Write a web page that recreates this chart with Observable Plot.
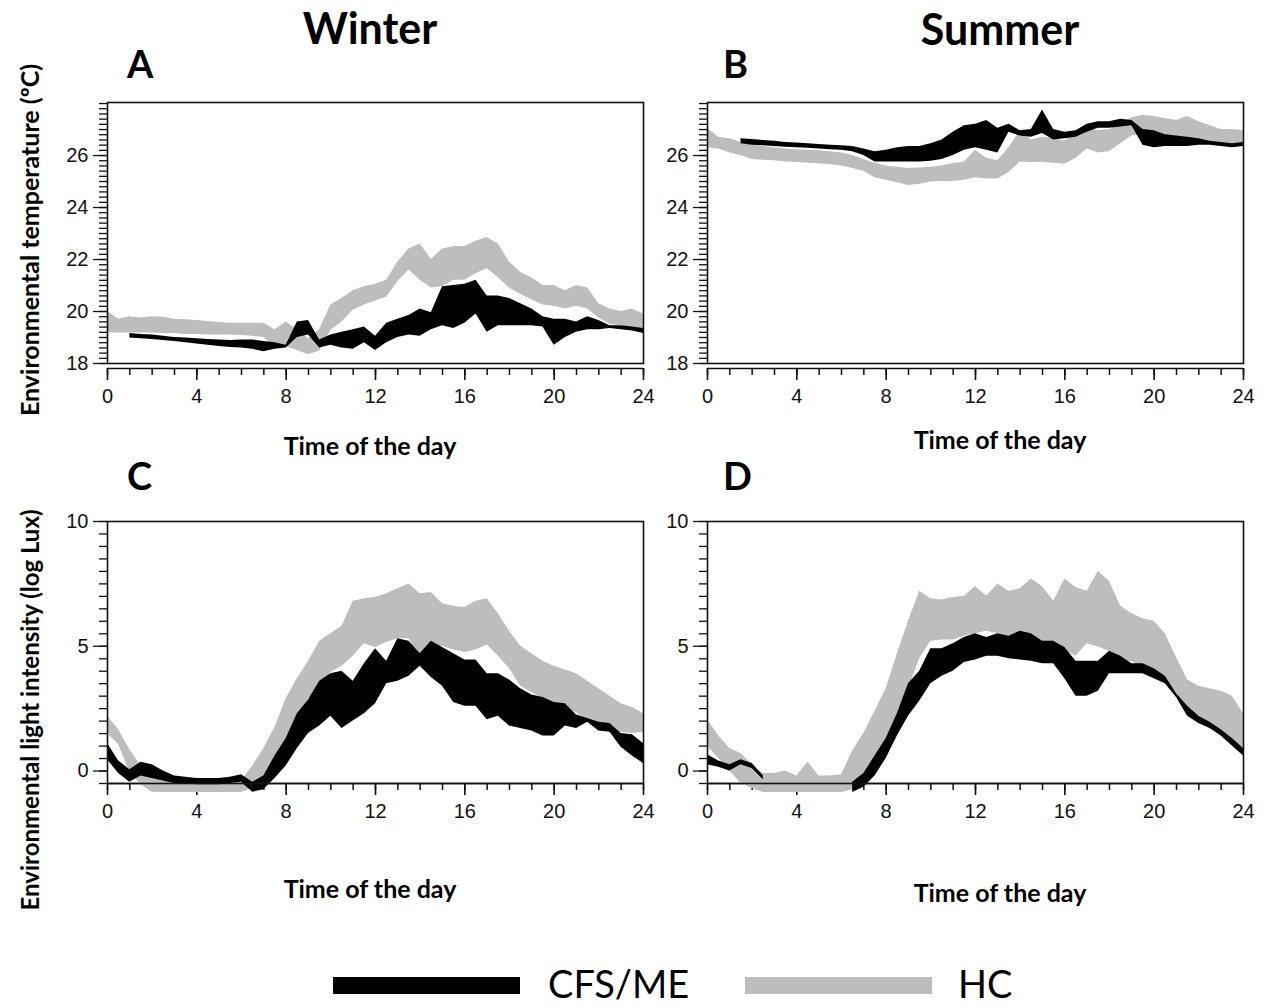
<!DOCTYPE html>
<html><head><meta charset="utf-8">
<script src="https://cdn.jsdelivr.net/npm/d3@7"></script>
<script src="https://cdn.jsdelivr.net/npm/@observablehq/plot@0.6"></script>
<style>
body{margin:0;background:#fff;}
#wrap{position:relative;width:1272px;height:1008px;overflow:hidden;background:#fff;}
</style></head><body><div id="wrap"></div>
<script>
// ---- data ----
const hours = [0,0.5,1,1.5,2,2.5,3,3.5,4,4.5,5,5.5,6,6.5,7,7.5,8,8.5,9,9.5,10,10.5,11,11.5,12,12.5,13,13.5,14,14.5,15,15.5,16,16.5,17,17.5,18,18.5,19,19.5,20,20.5,21,21.5,22,22.5,23,23.5,24];
const xTicks = [0,4,8,12,16,20,24];
const tempTicks = [18,20,22,24,26];
const luxTicks = [0,5,10];
const seasons = ["Winter","Summer"];
const panelLetters = ["A","B","C","D"];
const xTitle = "Time of the day";
const yTitles = ["Environmental temperature (ºC)","Environmental light intensity (log Lux)"];
const groups = ["CFS/ME","HC"];

// Panel A: winter temperature
const hcA_hi = [20.0,19.7,19.8,19.75,19.8,19.78,19.7,19.68,19.65,19.62,19.58,19.55,19.55,19.55,19.55,19.3,19.6,19.3,18.95,19.3,20.25,20.5,20.8,20.95,21.05,21.2,21.9,22.4,22.6,22.0,22.4,22.5,22.5,22.7,22.85,22.6,21.9,21.5,21.3,21.0,21.0,20.8,21.0,20.9,20.3,20.1,20.0,20.1,19.9];
const hcA_lo = [19.17,19.17,19.17,19.17,19.17,19.15,19.15,19.12,19.12,19.1,19.1,19.1,19.08,19.05,19.0,18.65,18.65,18.5,18.34,18.47,19.27,19.6,20.05,20.25,20.4,20.55,21.15,21.6,21.2,20.9,20.95,21.2,21.2,21.45,21.65,21.3,20.9,20.65,20.45,20.25,20.2,20.1,20.2,20.1,19.75,19.5,19.45,19.35,19.25];
const cfsA_hi = [null,null,19.15,19.12,19.1,19.05,19.0,18.98,18.95,18.92,18.9,18.88,18.9,18.9,18.85,18.8,18.7,19.6,19.65,18.9,19.1,19.2,19.3,19.4,19.05,19.55,19.7,19.85,20.1,19.95,20.95,21.0,21.05,21.2,20.6,20.6,20.5,20.3,20.1,19.8,19.7,19.7,19.6,19.8,19.65,19.45,19.45,19.4,19.35];
const cfsA_lo = [null,null,18.98,18.95,18.92,18.88,18.85,18.8,18.75,18.7,18.65,18.62,18.6,18.55,18.45,18.55,18.6,19.0,19.1,18.6,18.7,18.6,18.55,18.8,18.5,18.8,19.0,19.1,19.05,19.3,19.45,19.35,19.55,19.9,19.2,19.45,19.45,19.45,19.45,19.4,18.7,19.0,19.2,19.3,19.3,19.35,19.3,19.25,19.15];

// Panel B: summer temperature
const hcB_hi = [27.05,26.7,26.65,26.5,26.4,26.35,26.3,26.25,26.22,26.2,26.18,26.15,26.1,26.0,25.85,25.7,25.6,25.55,25.5,25.52,25.55,25.6,25.68,25.75,26.2,25.9,25.8,26.3,26.95,26.6,26.7,26.65,26.55,26.85,27.05,26.95,27.0,27.2,27.45,27.55,27.5,27.42,27.35,27.5,27.3,27.15,27.0,27.0,26.95];
const hcB_lo = [26.3,26.25,26.1,26.0,25.85,25.82,25.8,25.75,25.73,25.7,25.68,25.65,25.6,25.5,25.4,25.15,25.05,24.95,24.85,24.9,24.98,25.0,25.0,25.05,25.15,25.1,25.1,25.35,25.75,25.73,25.73,25.7,25.66,25.9,26.25,26.1,26.15,26.45,26.75,26.8,26.7,26.65,26.62,26.7,26.55,26.45,26.35,26.35,26.45];
const cfsB_hi = [null,null,null,26.65,26.62,26.58,26.55,26.5,26.48,26.45,26.42,26.4,26.38,26.35,26.25,26.15,26.2,26.3,26.35,26.35,26.45,26.6,26.9,27.15,27.2,27.35,27.05,27.2,26.95,27.0,27.75,27.0,26.9,26.95,27.2,27.3,27.3,27.4,27.35,27.0,26.95,26.8,26.75,26.7,26.65,26.55,26.5,26.45,26.5];
const cfsB_lo = [null,null,null,26.45,26.4,26.38,26.35,26.32,26.3,26.28,26.25,26.22,26.2,26.15,26.0,25.75,25.75,25.75,25.75,25.75,25.78,25.85,26.0,26.2,26.3,26.2,26.1,26.9,26.75,26.7,26.85,26.6,26.65,26.7,26.9,27.05,27.05,27.1,27.15,26.4,26.3,26.35,26.35,26.35,26.4,26.4,26.35,26.3,26.35];

// Panel C: winter light
const hcC_hi = [2.2,1.65,0.85,0.2,-0.2,-0.35,-0.4,-0.45,-0.45,-0.45,-0.45,-0.45,-0.4,0.2,0.9,1.75,2.9,3.7,4.4,5.2,5.5,5.8,6.8,6.9,6.95,7.1,7.3,7.5,7.1,7.15,6.7,6.6,6.55,6.8,6.9,6.3,5.6,5.0,4.7,4.4,4.2,4.05,3.9,3.6,3.3,3.0,2.7,2.55,2.3];
const hcC_lo = [1.5,1.05,-0.05,-0.55,-0.85,-0.86,-0.86,-0.86,-0.86,-0.86,-0.86,-0.86,-0.86,-0.7,-0.5,0.3,1.2,2.1,2.9,3.3,3.95,4.2,4.6,5.1,4.95,5.15,5.3,5.3,4.5,5.0,5.0,4.85,4.75,4.85,5.05,4.6,4.1,3.4,3.15,2.9,2.65,2.5,2.35,2.0,1.7,1.6,1.55,1.5,1.55];
const cfsC_hi = [1.1,0.4,0.05,0.35,0.25,0.0,-0.2,-0.25,-0.3,-0.3,-0.3,-0.25,-0.15,-0.45,-0.2,0.6,1.3,2.3,2.85,3.6,3.9,4.0,3.6,4.3,4.9,4.4,5.3,5.2,4.7,5.2,4.95,4.7,4.45,4.45,3.9,3.9,3.65,3.3,3.05,2.95,2.75,2.7,2.25,2.1,1.95,1.9,1.5,1.45,1.1];
const cfsC_lo = [0.45,-0.1,-0.45,-0.2,-0.3,-0.4,-0.5,-0.5,-0.55,-0.55,-0.55,-0.5,-0.45,-0.85,-0.75,-0.3,0.2,0.9,1.5,1.8,2.2,1.7,2.0,2.3,2.7,3.5,3.6,3.8,4.2,3.75,3.4,2.75,2.6,2.6,2.05,2.2,1.8,1.7,1.6,1.4,1.4,1.8,1.7,1.95,1.6,1.55,0.95,0.6,0.3];

// Panel D: summer light
const hcD_hi = [2.05,1.4,0.9,0.7,0.25,-0.1,-0.1,0.0,-0.2,0.35,-0.2,-0.2,-0.15,0.8,1.5,2.4,3.3,4.7,6.0,7.2,6.9,6.85,6.95,7.0,7.4,7.0,7.5,7.2,7.3,7.7,7.4,6.8,7.7,7.35,7.2,8.0,7.6,6.6,6.3,6.1,6.0,5.5,4.55,3.65,3.4,3.3,3.2,3.0,2.3];
const hcD_lo = [1.0,0.5,0.0,-0.5,-0.7,-0.86,-0.86,-0.86,-0.86,-0.86,-0.86,-0.86,-0.86,-0.75,-0.45,0.3,1.1,2.0,3.3,4.5,5.2,5.25,5.25,5.4,5.5,5.6,5.5,5.4,5.3,5.2,5.1,5.0,4.85,4.6,5.1,4.97,4.8,4.35,4.4,4.1,3.9,3.7,3.1,2.5,2.2,1.9,1.5,1.3,0.8];
const cfsD_hi = [0.65,0.4,0.25,0.45,0.3,-0.2,null,null,null,null,null,null,null,-0.45,-0.1,0.6,1.3,2.3,3.5,4.0,4.9,4.9,5.1,5.35,5.5,5.35,5.5,5.4,5.6,5.5,5.2,5.2,4.95,4.4,4.4,4.4,4.8,4.6,4.3,4.3,4.1,3.8,3.1,2.6,2.2,1.95,1.65,1.3,0.9];
const cfsD_lo = [0.25,0.15,0.0,0.25,0.1,-0.35,null,null,null,null,null,null,null,-0.86,-0.65,-0.2,0.5,1.4,2.2,2.8,3.5,3.8,4.0,4.35,4.45,4.6,4.6,4.5,4.45,4.4,4.3,4.3,3.7,3.0,3.0,3.2,3.9,3.9,3.9,3.9,3.7,3.5,2.95,2.2,1.9,1.7,1.4,1.0,0.6];

// ---- drawing ----
const BLACK = "#000000", GRAY = "#bdbdbd", INK = "#111111";
const wrap = document.getElementById("wrap");
const band = (lo, hi) => hours.map((t, i) => ({t, lo: lo[i] == null ? NaN : lo[i], hi: hi[i] == null ? NaN : hi[i]}));
const hourMinor = d3.range(0, 25);
const tempMinor = d3.range(0, 51).map(i => 18 + i * 0.2);
const luxMinor = d3.range(0, 22).map(i => -0.5 + i * 0.5);

const ML = 62, MT = 12, MR = 24, MB = 64, PW = 536;

function makePanel(c) {
  const p = Plot.plot({
    width: ML + PW + MR, height: MT + c.frameH + MB,
    marginLeft: ML, marginRight: MR, marginTop: MT, marginBottom: MB,
    style: {fontFamily: "'Liberation Sans', Arial, sans-serif", fontSize: "20px", color: INK, background: "transparent", overflow: "visible"},
    x: {domain: [0, 24]},
    y: {domain: c.yDomain},
    marks: [
      Plot.axisY(c.yMinor, {tickSize: 8, tickFormat: () => "", label: null, strokeWidth: 1.3}),
      Plot.axisY(c.yMajor, {tickSize: 14, tickPadding: 5, label: null, strokeWidth: 1.3}),
      Plot.ruleY([c.yDomain[0]], {dy: c.gap, stroke: INK, strokeWidth: 1.6}),
      Plot.axisX(hourMinor, {tickSize: 7, tickFormat: () => "", label: null, dy: c.gap, strokeWidth: 1.5}),
      Plot.axisX(xTicks, {tickSize: 12, tickPadding: 8, label: null, dy: c.gap, strokeWidth: 1.6}),
      Plot.areaY(band(c.hcLo, c.hcHi), {x: "t", y1: "lo", y2: "hi", fill: GRAY}),
      Plot.areaY(band(c.cfsLo, c.cfsHi), {x: "t", y1: "lo", y2: "hi", fill: BLACK}),
      Plot.frame({stroke: INK, strokeWidth: 1.6})
    ]
  });
  p.style.position = "absolute";
  p.style.left = (c.x0 - ML) + "px";
  p.style.top = (c.y0 - MT) + "px";
  wrap.appendChild(p);
}

const tempCfg = {yDomain: [18, 28.04], yMajor: tempTicks, yMinor: tempMinor, frameH: 261, gap: 5};
const luxCfg = {yDomain: [-0.5, 10], yMajor: luxTicks, yMinor: luxMinor, frameH: 262, gap: 0};

makePanel({...tempCfg, x0: 107, y0: 102, hcLo: hcA_lo, hcHi: hcA_hi, cfsLo: cfsA_lo, cfsHi: cfsA_hi});
makePanel({...tempCfg, x0: 707, y0: 102, hcLo: hcB_lo, hcHi: hcB_hi, cfsLo: cfsB_lo, cfsHi: cfsB_hi});
makePanel({...luxCfg, x0: 107, y0: 521, hcLo: hcC_lo, hcHi: hcC_hi, cfsLo: cfsC_lo, cfsHi: cfsC_hi});
makePanel({...luxCfg, x0: 707, y0: 521, hcLo: hcD_lo, hcHi: hcD_hi, cfsLo: cfsD_lo, cfsHi: cfsD_hi});

// ---- titles, labels and legend ----
const svg = d3.select(wrap).append("svg")
  .attr("width", 1272).attr("height", 1008)
  .style("position", "absolute").style("left", 0).style("top", 0)
  .style("font-family", "Lato, 'Open Sans', sans-serif");

function txt(s, x, y, size, weight, anchor, rot) {
  const t = svg.append("text").text(s).attr("font-size", size).attr("font-weight", weight)
    .attr("text-anchor", anchor).attr("fill", "#000");
  if (rot) t.attr("transform", `translate(${x},${y}) rotate(${rot})`);
  else t.attr("x", x).attr("y", y);
  return t;
}

txt(seasons[0], 370, 44, 43, 700, "middle");
txt(seasons[1], 1000, 45, 43, 700, "middle");
txt(panelLetters[0], 127, 78, 38, 700, "start");
txt(panelLetters[1], 723, 78, 38, 700, "start");
txt(panelLetters[2], 127, 490, 38, 700, "start");
txt(panelLetters[3], 723, 490, 38, 700, "start");
txt(xTitle, 370, 455, 25, 700, "middle");
txt(xTitle, 1000, 449, 25, 700, "middle");
txt(xTitle, 370, 898, 25, 700, "middle");
txt(xTitle, 1000, 902, 25, 700, "middle");
txt(yTitles[0], 39, 240, 25, 700, "middle", -90);
txt(yTitles[1], 39, 710, 24, 700, "middle", -90);

svg.append("rect").attr("x", 333).attr("y", 977).attr("width", 187).attr("height", 17).attr("fill", BLACK);
txt(groups[0], 548, 998, 38, 400, "start");
svg.append("rect").attr("x", 745).attr("y", 977).attr("width", 187).attr("height", 17).attr("fill", GRAY);
txt(groups[1], 958, 998, 38, 400, "start");
</script>
</body></html>
